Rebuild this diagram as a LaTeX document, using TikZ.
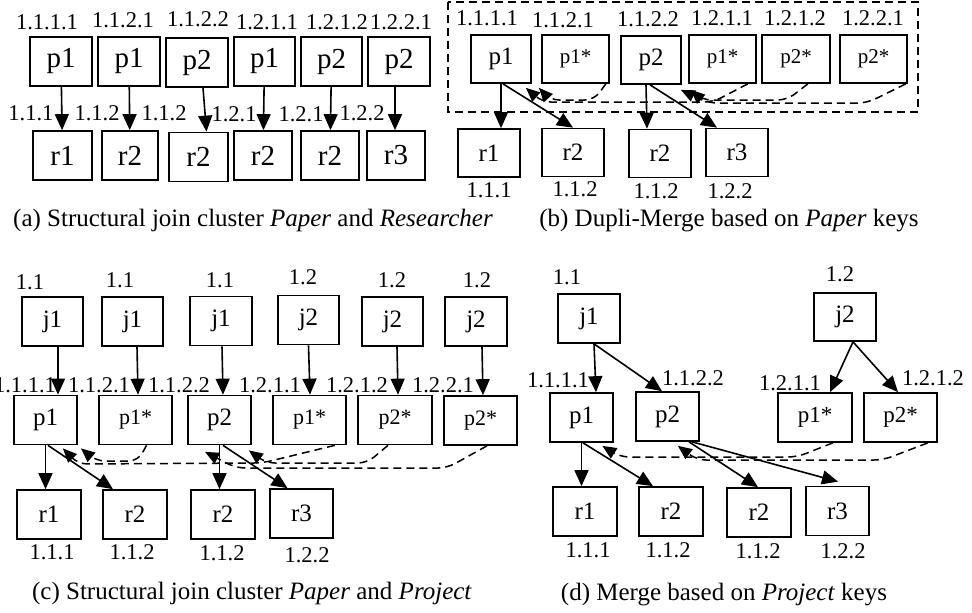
\documentclass[tikz,border=0pt]{standalone}
\usepackage{fontspec}
\setmainfont{Liberation Serif}
\usetikzlibrary{arrows.meta}
\begin{document}
\begin{tikzpicture}[x=1pt,y=-1pt,
 box/.style={draw,line width=1.7pt,inner sep=0pt,minimum width=62pt,minimum height=49pt,font=\fontsize{26}{26}\selectfont},
 sbox/.style={box,font=\fontsize{22}{22}\selectfont},
 lbl/.style={inner sep=0pt,font=\fontsize{22.5}{22.5}\selectfont},
 captxt/.style={inner sep=0pt,font=\fontsize{25}{25}\selectfont},
 arr/.style={line width=1.6pt,-{Triangle[length=16pt,width=14pt]}},
 darr/.style={line width=1.5pt,dash pattern=on 8pt off 5pt,rounded corners=9pt,-{Triangle[length=14pt,width=12pt]}},
 frame/.style={line width=1.6pt,dash pattern=on 8pt off 5pt}
]
\useasboundingbox (0,0) rectangle (972,613);
% ---------------- (a)
\begin{scope}[box/.append style={font=\fontsize{29}{29}\selectfont}]
\node[box] (a1) at (61,61.5) {p1};
\node[box] (a2) at (129,61.5) {p1};
\node[box] (a3) at (197,62.5) {p2};
\node[box,minimum width=61pt] (a4) at (264.5,61.5) {p1};
\node[box,minimum width=61pt] (a5) at (331.5,61.5) {p2};
\node[box] (a6) at (399,61.5) {p2};
\node[box,minimum width=59pt] (ar1) at (62.5,155.5) {r1};
\node[box,minimum width=56pt] (ar2) at (130,155.5) {r2};
\node[box,minimum width=59pt] (ar3) at (198.5,157) {r2};
\node[box,minimum width=58pt] (ar4) at (263,155.5) {r2};
\node[box,minimum width=58pt] (ar5) at (330,155.5) {r2};
\node[box,minimum width=58pt] (ar6) at (396,155.5) {r3};
\end{scope}
\node[lbl] (la1) at (47,22) {1.1.1.1};
\node[lbl] (la2) at (123,20) {1.1.2.1};
\node[lbl] (la3) at (198,19) {1.1.2.2};
\node[lbl] (la4) at (267,22) {1.2.1.1};
\node[lbl] (la5) at (337,22) {1.2.1.2};
\node[lbl] (la6) at (401,22) {1.2.2.1};
\node[lbl] (lam1) at (31,113) {1.1.1};
\node[lbl] (lam2) at (97,113) {1.1.2};
\node[lbl] (lam3) at (164,113) {1.1.2};
\node[lbl] (lam4) at (234,114) {1.2.1};
\node[lbl] (lam5) at (301,114) {1.2.1};
\node[lbl] (lam6) at (362,113) {1.2.2};
\draw[arr] (a1) -- (ar1);
\draw[arr] (a2) -- (ar2);
\draw[arr] ([xshift=6pt]a3.south) -- ([xshift=8pt]ar3.north);
\draw[arr] (a4) -- (ar4);
\draw[arr] (a5) -- (ar5);
\draw[arr] ([xshift=-4pt]a6.south) -- ([xshift=-1pt]ar6.north);
\node[captxt] (capa) at (253,220) {(a) Structural join cluster \textit{Paper} and \textit{Researcher}};
% ---------------- (b)
\draw[frame] (448,2) rectangle (918,112);
\begin{scope}[box/.append style={font=\fontsize{25}{25}\selectfont},sbox/.append style={font=\fontsize{21}{21}\selectfont}]
\node[box,minimum width=60pt,minimum height=48pt] (b1) at (501,59) {p1};
\node[sbox,minimum width=67pt,minimum height=48pt] (b2) at (575.5,59) {p1*};
\node[box,minimum width=60pt,minimum height=48pt] (b3) at (651,60) {p2};
\node[sbox,minimum width=67pt,minimum height=48pt] (b4) at (722.5,59) {p1*};
\node[sbox,minimum width=68pt,minimum height=48pt] (b5) at (796,59) {p2*};
\node[sbox,minimum width=67pt,minimum height=48pt] (b6) at (873.5,59) {p2*};
\node[box,minimum height=48pt] (br1) at (489,153) {r1};
\node[box,minimum height=48pt] (br2) at (573,152.5) {r2};
\node[box,minimum height=48pt] (br3) at (660,153.5) {r2};
\node[box,minimum height=48pt] (br4) at (737,152.5) {r3};
\end{scope}
\node[lbl] (lb1) at (487,18) {1.1.1.1};
\node[lbl] (lb2) at (563,20) {1.1.2.1};
\node[lbl] (lb3) at (648,19) {1.1.2.2};
\node[lbl] (lb4) at (722,18) {1.2.1.1};
\node[lbl] (lb5) at (795,18) {1.2.1.2};
\node[lbl] (lb6) at (873,18) {1.2.2.1};
\node[lbl] (lbb1) at (489,190) {1.1.1};
\node[lbl] (lbb2) at (575,189) {1.1.2};
\node[lbl] (lbb3) at (656,191) {1.1.2};
\node[lbl] (lbb4) at (730,191) {1.2.2};
\draw[arr] (b1.south) -- (b1.south |- br1.north);
\draw[arr] ([xshift=2pt]b1.south) -- (br2.north);
\draw[arr] ([xshift=-5pt]b3.south) -- ([xshift=-4pt]b3.south |- br3.north);
\draw[arr] ([xshift=-1pt]b3.south) -- ([xshift=-20pt]br4.north);
\draw[darr] ([xshift=-4pt]b2.south east) -- (594,100) -- (550,100) -- ([shift={(7pt,-4pt)}]b1.south east);
\draw[darr] ([xshift=-9pt]b4.south east) -- (713,102) -- (542,102) -- ([shift={(-6pt,-4pt)}]b1.south east);
\draw[darr] ([xshift=-23pt]b5.south east) -- (787,100) -- (702,100) -- ([shift={(9pt,-5pt)}]b3.south east);
\draw[darr] ([xshift=-2pt]b6.south east) -- (867,103) -- (708,103) -- ([shift={(-1pt,-5pt)}]b3.south east);
\node[captxt] (capb) at (729,221) {(b) Dupli-Merge based on \textit{Paper} keys};
% ---------------- (c)
\begin{scope}[box/.append style={font=\fontsize{25}{25}\selectfont},sbox/.append style={font=\fontsize{22}{22}\selectfont}]
\node[box,minimum width=61pt] (c1) at (52.5,321.5) {j1};
\node[box,minimum width=61pt] (c2) at (132.5,321.5) {j1};
\node[box] (c3) at (221,321) {j1};
\node[box,minimum width=61pt] (c4) at (308.5,320) {j2};
\node[box,minimum width=61pt] (c5) at (392.5,321.5) {j2};
\node[box] (c6) at (476,321.5) {j2};
\node[box,minimum width=63pt] (cp1) at (45.5,420) {p1};
\node[sbox,minimum width=73pt] (cp2) at (135.5,420) {p1*};
\node[box,minimum width=63pt] (cp3) at (219.5,420) {p2};
\node[sbox,minimum width=73pt] (cp4) at (309.5,420) {p1*};
\node[sbox,minimum width=74pt] (cp5) at (395,420) {p2*};
\node[sbox,minimum width=73pt] (cp6) at (480.5,420.5) {p2*};
\node[box,minimum width=64pt] (cr1) at (49,514.5) {r1};
\node[box,minimum width=64pt] (cr2) at (135,514.5) {r2};
\node[box,minimum width=64pt] (cr3) at (223,514.5) {r2};
\node[box,minimum width=63pt] (cr4) at (301.5,513.5) {r3};
\end{scope}
\node[lbl] (lc1) at (30,282) {1.1};
\node[lbl] (lc2) at (120,280) {1.1};
\node[lbl] (lc3) at (220,280) {1.1};
\node[lbl] (lc4) at (303,277) {1.2};
\node[lbl] (lc5) at (392,280) {1.2};
\node[lbl] (lc6) at (477,280) {1.2};
\node[lbl] (lcm1) at (25,385) {1.1.1.1};
\node[lbl] (lcm2) at (99,385) {1.1.2.1};
\node[lbl] (lcm3) at (179,385) {1.1.2.2};
\node[lbl] (lcm4) at (270,385) {1.2.1.1};
\node[lbl] (lcm5) at (357,385) {1.2.1.2};
\node[lbl] (lcm6) at (443,385) {1.2.2.1};
\draw[arr] ([xshift=5.5pt]c1.south) -- ([xshift=5.5pt]c1.south |- cp1.north);
\draw[arr] ([xshift=4.5pt]c2.south) -- ([xshift=5.5pt]c2.south |- cp2.north);
\draw[arr] ([xshift=1pt]c3.south) -- ([xshift=2pt]c3.south |- cp3.north);
\draw[arr] (c4.south) -- ([xshift=1.5pt]c4.south |- cp4.north);
\draw[arr] ([xshift=4.5pt]c5.south) -- ([xshift=5.5pt]c5.south |- cp5.north);
\draw[arr] ([xshift=6pt]c6.south) -- ([xshift=7pt]c6.south |- cp6.north);
\node[lbl] (lcb1) at (52,552) {1.1.1};
\node[lbl] (lcb2) at (132,552) {1.1.2};
\node[lbl] (lcb3) at (222,553) {1.1.2};
\node[lbl] (lcb4) at (307,555) {1.2.2};
\draw[arr] (cp1.south) -- (cp1.south |- cr1.north);
\draw[arr] ([xshift=2.5pt]cp1.south) -- ([xshift=-22pt]cr2.north);
\draw[arr] (cp3.south) -- (cp3.south |- cr3.north);
\draw[arr] ([xshift=3.5pt]cp3.south) -- ([xshift=-14pt]cr4.north);
\draw[darr] ([xshift=11pt]cp2.south) -- (138,461) -- (96,461) -- ([shift={(3pt,-3pt)}]cp1.south east);
\draw[darr] ([xshift=-12pt]cp4.south east) -- (262,463) -- (78,464) -- ([shift={(-15pt,-3pt)}]cp1.south east);
\draw[darr] ([xshift=-7pt]cp5.south) -- (367,463) -- (266,463) -- ([shift={(-3pt,-5pt)}]cp3.south east);
\draw[darr] ([xshift=6.5pt]cp6.south) -- (447,468) -- (236,468) -- ([shift={(-14.5pt,-6.5pt)}]cp3.south);
\node[captxt] (capc) at (252,593) {(c) Structural join cluster \textit{Paper} and \textit{Project}};
% ---------------- (d)
\begin{scope}[box/.append style={font=\fontsize{25}{25}\selectfont},sbox/.append style={font=\fontsize{23}{23}\selectfont}]
\node[box] (dj1) at (589,318.5) {j1};
\node[box,minimum height=48pt] (dj2) at (845,317) {j2};
\node[box,minimum width=63pt] (dp1) at (581.5,417.5) {p1};
\node[box,minimum width=63pt] (dp2) at (667.5,416.5) {p2};
\node[sbox,minimum width=74pt] (dp3) at (815,417.5) {p1*};
\node[sbox,minimum width=73pt] (dp4) at (900.5,417.5) {p2*};
\node[box,minimum width=64pt] (dr1) at (585,511.5) {r1};
\node[box,minimum width=64pt] (dr2) at (671,511.5) {r2};
\node[box,minimum width=64pt] (dr3) at (759,512.5) {r2};
\node[box,minimum width=63pt] (dr4) at (837.5,511) {r3};
\end{scope}
\node[lbl] (ld1) at (567,277) {1.1};
\node[lbl] (ld2) at (840,274) {1.2};
\node[lbl] (ldm1) at (558,380) {1.1.1.1};
\node[lbl] (ldm2) at (693,378) {1.1.2.2};
\node[lbl] (ldm3) at (790,383) {1.2.1.1};
\node[lbl] (ldm4) at (933,378) {1.2.1.2};
\draw[arr] ([xshift=5pt]dj1.south) -- ([xshift=14.5pt]dp1.north);
\draw[arr] ([xshift=5pt]dj1.south) -- ([xshift=-5.5pt]dp2.north);
\draw[arr] ([xshift=8pt]dj2.south) -- ([xshift=15pt]dp3.north);
\draw[arr] ([xshift=8pt]dj2.south) -- ([xshift=-2.5pt]dp4.north);
\node[lbl] (ldb1) at (588,550) {1.1.1};
\node[lbl] (ldb2) at (668,550) {1.1.2};
\node[lbl] (ldb3) at (758,551) {1.1.2};
\node[lbl] (ldb4) at (843,551) {1.2.2};
\draw[arr] (dp1.south) -- (dp1.south |- dr1.north);
\draw[arr] ([xshift=1.5pt]dp1.south) -- ([xshift=-18pt]dr2.north);
\draw[arr] ([xshift=21.5pt]dp2.south) -- ([xshift=-1pt]dr3.north);
\draw[arr] ([xshift=24.5pt]dp2.south) -- ([shift={(0.5pt,4pt)}]dr4.north);
\draw[darr] ([xshift=-20pt]dp3.south east) -- (797,457) -- (620,457) -- ([shift={(-11.5pt,-3pt)}]dp1.south east);
\draw[darr] ([xshift=-10pt]dp4.south east) -- (883,460) -- (697,460) -- ([shift={(-22pt,-4pt)}]dp2.south east);
\node[captxt] (capd) at (724,595) {(d) Merge based on \textit{Project} keys};
\end{tikzpicture}
\end{document}
